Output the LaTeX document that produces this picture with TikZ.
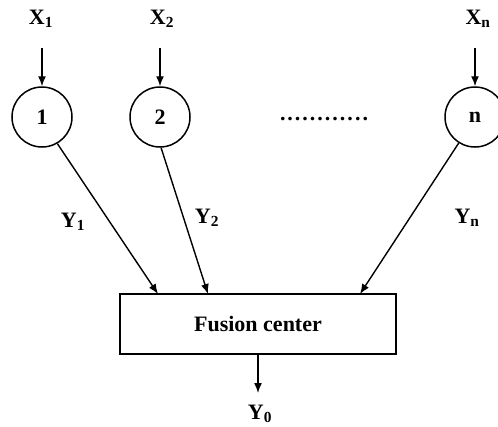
\documentclass[tikz,border=0pt]{standalone}
\usepackage{fontspec}
\setmainfont{Liberation Serif}
\usetikzlibrary{arrows.meta}
\begin{document}
\begin{tikzpicture}[x=1pt,y=-1pt,
  lab/.style={font=\fontsize{22}{24}\selectfont\bfseries, inner sep=0pt},
  sensor/.style={circle, draw, line width=1.5pt, minimum size=60pt, inner sep=0pt, font=\fontsize{22}{24}\selectfont\bfseries},
  fbox/.style={draw, line width=1.5pt, minimum width=276pt, minimum height=60pt, inner sep=0pt, font=\fontsize{22}{24}\selectfont\bfseries},
  arr/.style={line width=1.4pt, -{Latex[length=10pt,width=8pt]}},
  ]
\useasboundingbox (0,0) rectangle (498,426);
\node[lab] (x1) at (41,19) {X\textsubscript{1}};
\node[lab] (x2) at (162,19) {X\textsubscript{2}};
\node[lab] (xn) at (478,19) {X\textsubscript{n}};
\node[sensor] (s1) at (42,117) {1};
\node[sensor] (s2) at (160,117) {2};
\node[sensor] (sn) at (475,117) {n};
\node[lab] (dots) at (324,119) {.\kern2pt.\kern2pt.\kern2pt.\kern2pt.\kern2pt.\kern2pt.\kern2pt.\kern2pt.\kern2pt.\kern2pt.\kern2pt.};
\node[fbox] (fc) at (258,324) {Fusion center};
\node[lab] (y0) at (260,414) {Y\textsubscript{0}};
\coordinate (a1) at (42,48);
\coordinate (a2) at (160,48);
\coordinate (an) at (475,48);
\draw[arr] (a1) -- (s1.north);
\draw[arr] (a2) -- (s2.north);
\draw[arr] (an) -- (sn.north);
\coordinate (t1) at (158,294);
\coordinate (t2) at (208,294);
\coordinate (tn) at (360,294);
\draw[arr] (s1.-60) -- (t1);
\draw[arr] (s2.-88) -- (t2);
\draw[arr] (sn.-122) -- (tn);
\coordinate (o) at (258,393);
\draw[arr] (fc.south) -- (o);
\node[lab] (y1) at (73,222) {Y\textsubscript{1}};
\node[lab] (y2) at (207,218) {Y\textsubscript{2}};
\node[lab] (yn) at (467,218) {Y\textsubscript{n}};
\end{tikzpicture}
\end{document}
